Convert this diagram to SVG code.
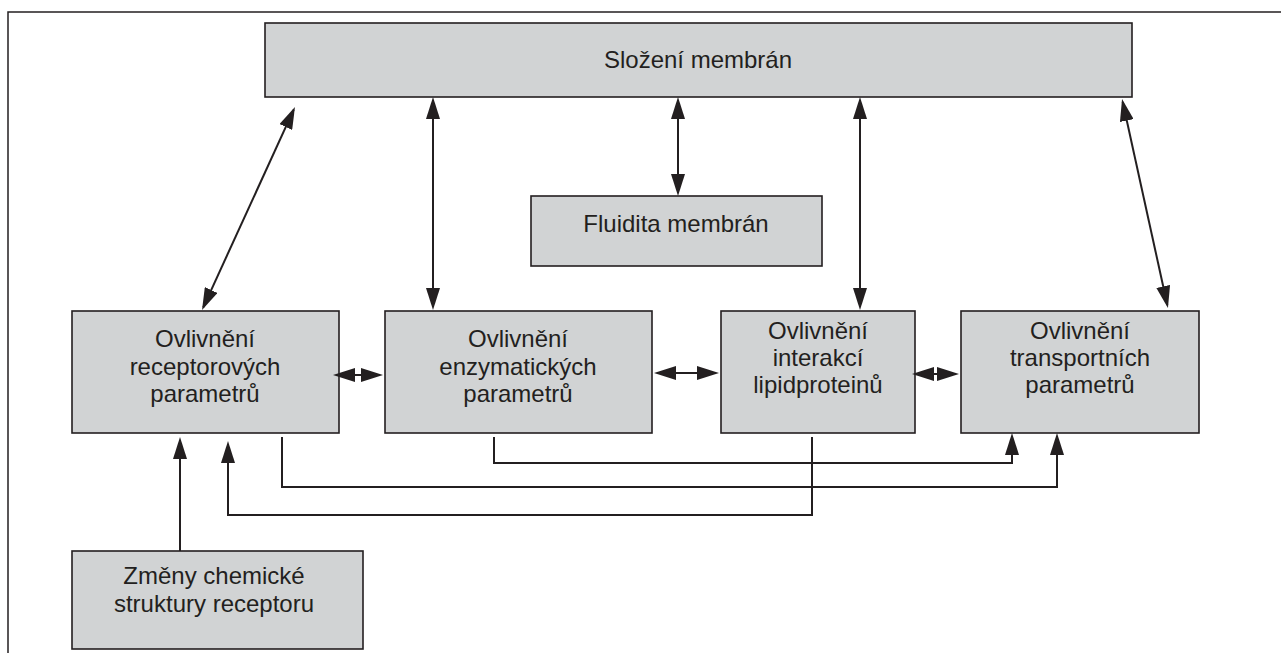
<svg xmlns="http://www.w3.org/2000/svg" width="1281" height="653" viewBox="0 0 1281 653">
<style>
.box{fill:#d1d3d4;stroke:#231f20;stroke-width:1.6}
.t{font-family:"Liberation Sans",Arial,sans-serif;font-size:24px;fill:#231f20;text-anchor:middle}
.c{fill:none;stroke:#231f20;stroke-width:2}
.a{marker-end:url(#ah)}
.b{marker-start:url(#ah);marker-end:url(#ah)}
</style>
<defs>
<marker id="ah" viewBox="0 0 22 14" refX="19" refY="7" markerWidth="22" markerHeight="14" markerUnits="userSpaceOnUse" orient="auto-start-reverse">
<path d="M0,0 L22,7 L0,14 Z" fill="#231f20"/>
</marker>
</defs>
<rect x="0" y="0" width="1281" height="653" fill="#fff"/>
<rect x="8" y="12" width="1285" height="660" fill="none" stroke="#231f20" stroke-width="1.5"/>

<g id="n-slozeni">
<rect class="box" x="265" y="23" width="867" height="74"/>
<text class="t" x="698" y="68">Složení membrán</text>
</g>
<g id="n-fluidita">
<rect class="box" x="531" y="196" width="291" height="70"/>
<text class="t" x="676" y="232">Fluidita membrán</text>
</g>
<g id="n-receptor">
<rect class="box" x="72" y="311" width="267" height="122"/>
<text class="t" x="205" y="347">Ovlivnění</text>
<text class="t" x="205" y="375">receptorových</text>
<text class="t" x="205" y="402">parametrů</text>
</g>
<g id="n-enzym">
<rect class="box" x="385" y="311" width="267" height="122"/>
<text class="t" x="518" y="347">Ovlivnění</text>
<text class="t" x="518" y="375">enzymatických</text>
<text class="t" x="518" y="402">parametrů</text>
</g>
<g id="n-interakce">
<rect class="box" x="721" y="311" width="194" height="122"/>
<text class="t" x="818" y="339">Ovlivnění</text>
<text class="t" x="818" y="366">interakcí</text>
<text class="t" x="818" y="393">lipidproteinů</text>
</g>
<g id="n-transport">
<rect class="box" x="961" y="311" width="238" height="122"/>
<text class="t" x="1080" y="339">Ovlivnění</text>
<text class="t" x="1080" y="366">transportních</text>
<text class="t" x="1080" y="393">parametrů</text>
</g>
<g id="n-zmeny">
<rect class="box" x="72" y="551" width="291" height="98"/>
<text class="t" x="214" y="584">Změny chemické</text>
<text class="t" x="214" y="612">struktury receptoru</text>
</g>

<g id="connectors">
<line class="c b" x1="293.7" y1="109.7" x2="203.3" y2="307.3"/>
<line class="c b" x1="433" y1="100" x2="433" y2="307"/>
<line class="c b" x1="678" y1="100" x2="678" y2="193"/>
<line class="c b" x1="860" y1="100" x2="860" y2="307"/>
<line class="c b" x1="1122.7" y1="102" x2="1167.3" y2="305"/>
<line class="c b" x1="336" y1="375" x2="380" y2="375"/>
<line class="c b" x1="657" y1="373" x2="716" y2="373"/>
<line class="c b" x1="915" y1="374" x2="956" y2="374"/>
<line class="c a" x1="180" y1="551" x2="180" y2="440"/>
<path class="c a" d="M812,437 V515 H228 V444"/>
<path class="c a" d="M282,437 V487 H1057 V436"/>
<path class="c a" d="M494,437 V463 H1012 V436"/>
</g>
</svg>
